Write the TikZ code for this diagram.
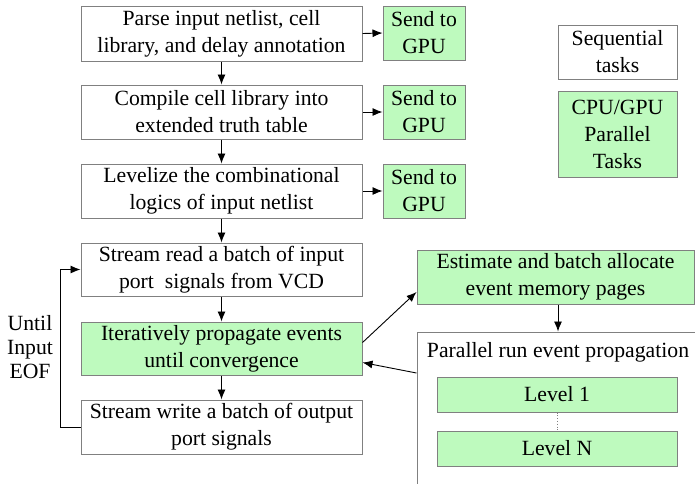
\documentclass[tikz,border=0pt]{standalone}
\usepackage{fontspec}
\setmainfont{Liberation Serif}
\usetikzlibrary{arrows,arrows.meta,calc}
\definecolor{pargreen}{RGB}{190,250,190}
\definecolor{boxgray}{RGB}{128,128,128}
\tikzset{>={Latex[length=10pt,width=8pt]}}
\tikzset{
  seqbox/.style={draw=boxgray,line width=1pt,fill=white,inner sep=0pt,
    align=center,font=\fontsize{21.7}{27}\selectfont},
  parbox/.style={seqbox,fill=pargreen},
  flow/.style={->,line width=0.9pt,black}
}

\begin{document}
\begin{tikzpicture}[x=1pt,y=-1pt]
    \clip (0,0) rectangle (695,483);
    % sequential chain
    \node[seqbox,minimum width=281pt,minimum height=55pt] (parse) at (221.5,33.5)
      {Parse input netlist, cell\\library, and delay annotation};
    \node[seqbox,minimum width=281pt,minimum height=54pt] (compile) at (221.5,112)
      {Compile cell library into\\extended truth table};
    \node[seqbox,minimum width=281pt,minimum height=54pt] (levelize) at (221.5,191)
      {Levelize the combinational\\logics of input netlist};
    \node[seqbox,minimum width=281pt,minimum height=53pt] (readvcd) at (221.5,269.5)
      {Stream read a batch of input\\port\ \ signals from VCD};
    \node[parbox,minimum width=281pt,minimum height=53pt] (propagate) at (221.5,348.5)
      {Iteratively propagate events\\until convergence};
    \node[seqbox,minimum width=281pt,minimum height=54pt] (writeout) at (221.5,427)
      {Stream write a batch of output\\port signals};
    % send to gpu
    \node[parbox,minimum width=82pt,minimum height=54pt] (send1) at (424,33)
      {Send to\\GPU};
    \node[parbox,minimum width=82pt,minimum height=54pt] (send2) at (424,112)
      {Send to\\GPU};
    \node[parbox,minimum width=82pt,minimum height=54pt] (send3) at (424,191)
      {Send to\\GPU};
    % legend
    \node[seqbox,minimum width=119pt,minimum height=54pt] (legseq) at (617.5,52)
      {Sequential\\tasks};
    \node[parbox,minimum width=119pt,minimum height=86pt] (legpar) at (617.5,134)
      {CPU/GPU\\Parallel\\Tasks};
    % gpu side
    \node[parbox,minimum width=277pt,minimum height=54pt] (estimate) at (555.5,277)
      {Estimate and batch allocate\\event memory pages};
    \node[seqbox,minimum width=300pt,minimum height=170pt] (parallel) at (567,417) {};
    \node[font=\fontsize{21.7}{27}\selectfont] (partitle) at (558,352)
      {Parallel run event propagation};
    \node[parbox,minimum width=240pt,minimum height=35pt] (level1) at (557,394.5)
      {Level 1};
    \node[parbox,minimum width=240pt,minimum height=35pt] (levelN) at (557,448.5)
      {Level N};
    \draw[dotted,boxgray,thick] (level1.south) -- (levelN.north);
    \node[align=center,font=\fontsize{21.7}{24}\selectfont] (until) at (30,347)
      {Until\\Input\\EOF};
    % connectors
    \draw[flow] (parse) -- (compile);
    \draw[flow] (compile) -- (levelize);
    \draw[flow] (levelize) -- (readvcd);
    \draw[flow] (readvcd) -- (propagate);
    \draw[flow] (propagate) -- (writeout);
    \draw[flow] (parse.east) -- (send1.west);
    \draw[flow] (compile.east) -- (send2.west);
    \draw[flow] (levelize.east) -- (send3.west);
    \draw[flow] (writeout.west) -- ++(-20,0) |- (readvcd.west);
    \draw[flow] ($(propagate.north east)+(0,21)$) -- ($(estimate.west)+(0,15)$);
    \draw[flow] (estimate.south -| partitle) -- (parallel.north -| partitle);
    \draw[flow] ($(parallel.west)+(0,-44)$) -- ($(propagate.east)+(0,14)$);
\end{tikzpicture}
\end{document}
